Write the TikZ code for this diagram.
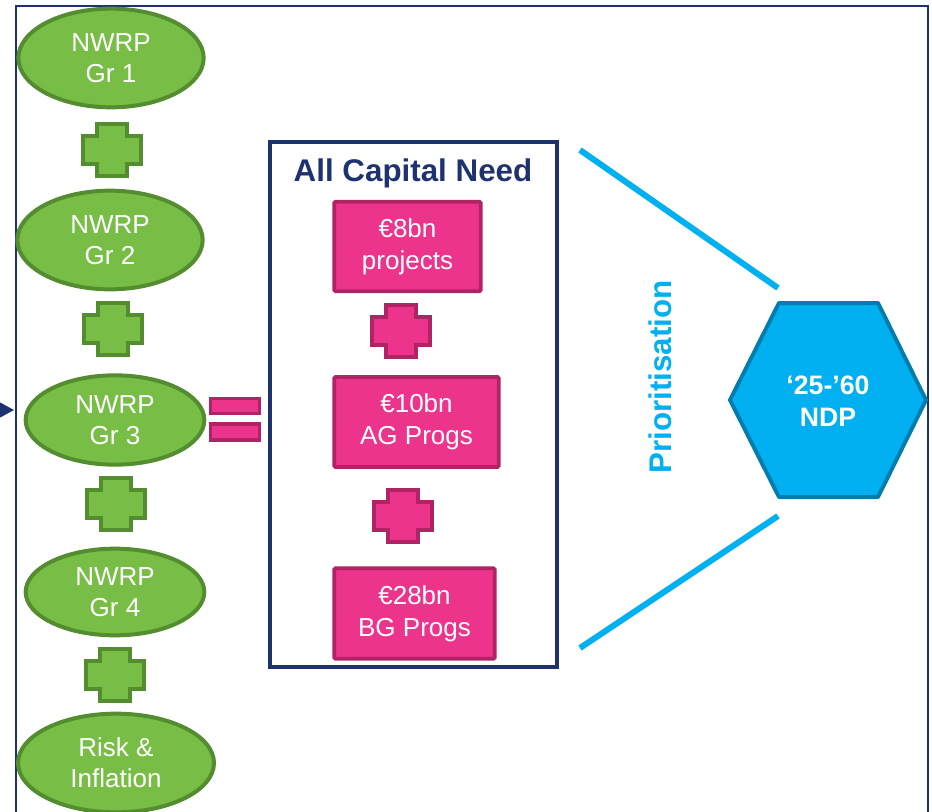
\documentclass[tikz,border=0pt]{standalone}
\usepackage{fontspec}
\setmainfont{Liberation Sans}
\usetikzlibrary{shapes.geometric,arrows.meta}

\definecolor{grfill}{RGB}{120,190,70}
\definecolor{grline}{RGB}{84,140,48}
\definecolor{pkfill}{RGB}{236,52,140}
\definecolor{pkline}{RGB}{176,36,102}
\definecolor{navy}{RGB}{31,50,112}
\definecolor{skyb}{RGB}{0,176,240}
\definecolor{skyline}{RGB}{0,125,175}

\tikzset{
  grp/.style={ellipse,draw=grline,fill=grfill,line width=3pt,text=white,align=center,
    inner sep=0pt,font=\fontsize{19.5}{23}\selectfont},
  capbox/.style={rectangle,rounded corners=1pt,draw=pkline,fill=pkfill,line width=2.8pt,text=white,
    align=center,inner sep=0pt,font=\fontsize{19.5}{24}\selectfont},
  eqbar/.style={rectangle,draw=pkline,fill=pkfill,line width=2.4pt,minimum width=37pt},
  pics/plusmark/.style={code={
    \draw[pic actions] (-15,-26) -- (15,-26) -- (15,-14) -- (29,-14) -- (29,14) -- (15,14)
      -- (15,26) -- (-15,26) -- (-15,14) -- (-29,14) -- (-29,-14) -- (-15,-14) -- cycle;}},
}

\begin{document}
\begin{tikzpicture}[x=0.75pt,y=0.75pt,yscale=-1,xscale=1]
\clip (0,0) rectangle (932,811);

%Frame
\draw [navy,line width=1.5pt] (16,815) -- (16,6) -- (928,6) -- (928,815) ;
\coordinate (arrowstart) at (-20,410) ;
\coordinate (arrowtip) at (14,410) ;
\draw [navy,line width=1pt,-{Triangle[length=14pt,width=15pt]}] (arrowstart) -- (arrowtip) ;

%Green column
\node [grp,minimum width=139pt,minimum height=74pt] (gr1) at (111,58) {NWRP\\Gr 1};
\node [grp,minimum width=139pt,minimum height=74pt] (gr2) at (110,240) {NWRP\\Gr 2};
\node [grp,minimum width=134pt,minimum height=67pt] (gr3) at (115,420) {NWRP\\Gr 3};
\node [grp,minimum width=134pt,minimum height=65pt] (gr4) at (115,592) {NWRP\\Gr 4};
\node [grp,minimum width=147pt,minimum height=74pt] (risk) at (116,763) {Risk \&\\Inflation};
\pic [draw=grline,fill=grfill,line width=3.2pt] at (112,150) {plusmark};
\pic [draw=grline,fill=grfill,line width=3.2pt] at (113,329) {plusmark};
\pic [draw=grline,fill=grfill,line width=3.2pt] at (116,504) {plusmark};
\pic [draw=grline,fill=grfill,line width=3.2pt] at (115,675) {plusmark};

%Equals
\node [eqbar,minimum height=11pt] (eqtop) at (235,406) {};
\node [eqbar,minimum height=12pt] (eqbot) at (235,432) {};

%Capital box
\draw [navy,line width=3.4pt] (270,142) rectangle (557,667) ;
\node [text=navy,font=\fontsize{23.5}{28}\selectfont\bfseries] (need) at (413,173) {All Capital Need};
\node [capbox,minimum width=110pt,minimum height=67pt] (capA) at (407.5,246.5) {€8bn\\projects};
\node [capbox,minimum width=123.5pt,minimum height=67.5pt] (capB) at (416.5,422) {€10bn\\AG Progs};
\node [capbox,minimum width=120.5pt,minimum height=68pt] (capC) at (414.5,613.5) {€28bn\\BG Progs};
\pic [draw=pkline,fill=pkfill,line width=3.2pt] at (401,331) {plusmark};
\pic [draw=pkline,fill=pkfill,line width=3.2pt] at (403,516) {plusmark};

%Prioritisation
\coordinate (upA) at (580,150) ;
\coordinate (upB) at (778,288) ;
\coordinate (lowA) at (580,648) ;
\coordinate (lowB) at (778,516) ;
\draw [skyb,line width=4.5pt] (upA) -- (upB) ;
\draw [skyb,line width=4.5pt] (lowA) -- (lowB) ;
\node [rotate=90,text=skyb,font=\fontsize{23.5}{28}\selectfont\bfseries] (prio) at (660,377) {Prioritisation};

%Hexagon
\draw [draw=skyline,fill=skyb,line width=3pt,line join=round] (730,400) -- (779,303) -- (878,303) -- (926,400) -- (878,497) -- (779,497) -- cycle ;
\node [text=white,align=center,font=\fontsize{20}{24}\selectfont\bfseries] (ndp) at (828,401) {‘25-’60\\NDP};

\end{tikzpicture}
\end{document}
